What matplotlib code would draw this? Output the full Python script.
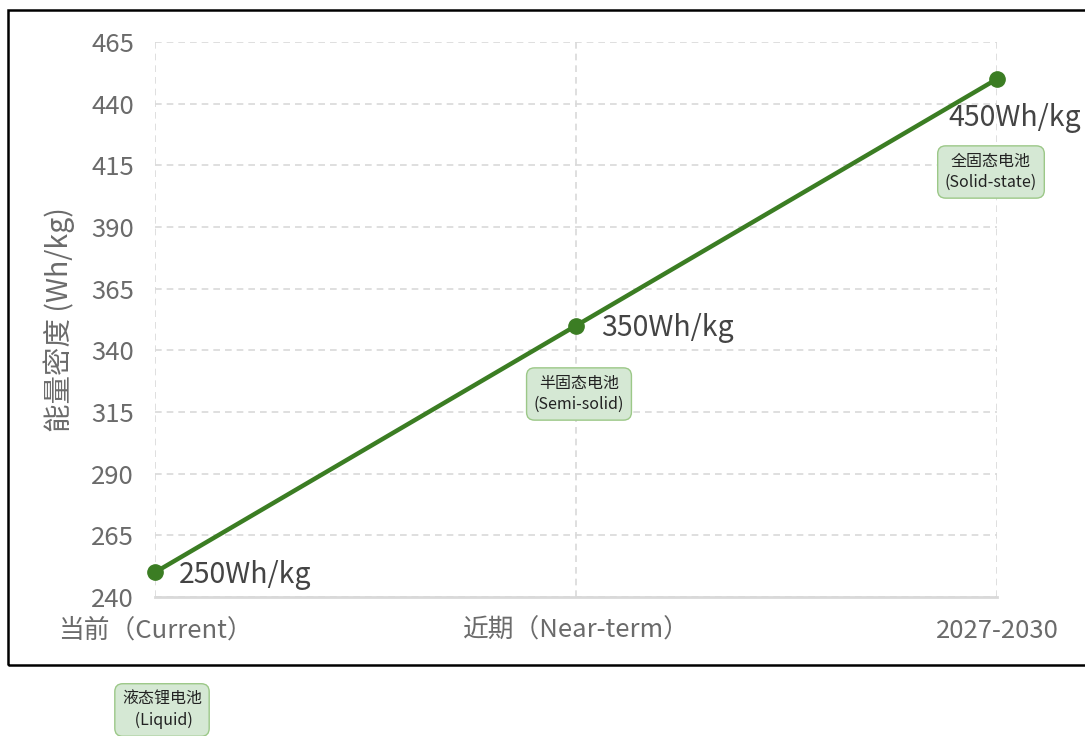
import matplotlib
matplotlib.use("Agg")
import matplotlib.pyplot as plt
from matplotlib.patches import Rectangle

plt.rcParams['font.family'] = ['Noto Sans CJK SC', 'DejaVu Sans']

stages = ["当前（Current）", "近期（Near-term）", "2027-2030"]
density = [250, 350, 450]
value_labels = ["250Wh/kg", "350Wh/kg", "450Wh/kg"]
tech_labels = ["液态锂电池\n (Liquid)", "半固态电池\n(Semi-solid)", "全固态电池\n(Solid-state)"]
yticks = [240, 265, 290, 315, 340, 365, 390, 415, 440, 465]

green = "#3b7d23"
gray_txt = "#6b6b6b"
grid_c = "#d9d9d9"

fig = plt.figure(figsize=(10.85, 7.36), dpi=100)
ax = fig.add_axes([155/1085, 1-597/736, (997-155)/1085, (597-42)/736])

x = list(range(len(stages)))
ax.plot(x, density, color=green, lw=3.2, marker="o", ms=11, zorder=5, clip_on=False)

ax.set_xlim(0, 2)
ax.set_ylim(240, 465)
ax.set_xticks(x)
ax.set_xticklabels(stages, fontsize=18.5)
ax.set_yticks(yticks)
ax.tick_params(axis="both", length=0, labelsize=18.5, labelcolor=gray_txt)
ax.tick_params(axis="y", pad=15)
ax.tick_params(axis="x", pad=15)
ax.grid(True, ls=(0, (4, 3)), color=grid_c, lw=1.2)
for side in ["top", "right", "left"]:
    ax.spines[side].set_visible(False)
ax.spines["bottom"].set_color(grid_c)
ax.spines["bottom"].set_linewidth(2)
ax.set_ylabel("能量密度 (Wh/kg)", fontsize=20.5, color=gray_txt, labelpad=12)

# value labels beside each point
offsets = [(17, -2), (18, -2), (-35, -28)]
for xi, yi, lab, off in zip(x, density, value_labels, offsets):
    ax.annotate(lab, (xi, yi), xytext=off, textcoords="offset points",
                fontsize=20.5, color="#444444", ha="left", va="center", annotation_clip=False)

# technology boxes
box_pos = [(162, 710), (579, 394), (991, 172)]
for (px, py), lab in zip(box_pos, tech_labels):
    fig.text(px/1085, 1-py/736, lab, fontsize=11.5, color="#222222", ha="center", va="center",
             linespacing=1.3,
             bbox=dict(boxstyle="round,pad=0.45,rounding_size=0.5", fc="#d5e8d4", ec="#9cc888", lw=1))

# outer frame
fig.patches.append(Rectangle((8/1085, 1-665/736), 1.1, (665-10)/736, transform=fig.transFigure,
                             fill=False, ec="black", lw=1.8, clip_on=False))

fig.savefig("out.png", dpi=100)
